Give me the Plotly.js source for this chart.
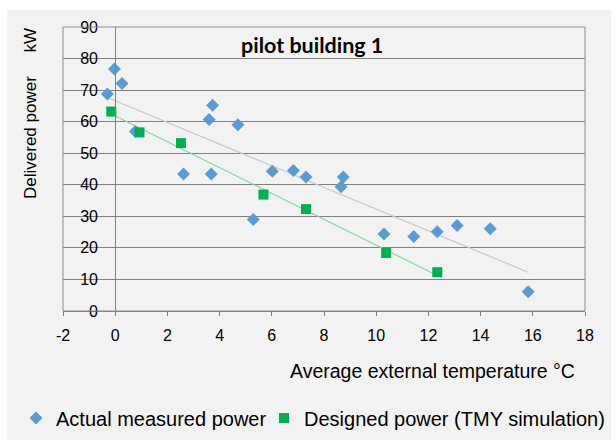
<!DOCTYPE html>
<html>
<head>
<meta charset="utf-8">
<script src="https://cdn.plot.ly/plotly-3.0.1.min.js"></script>
<style>html,body{margin:0;padding:0;background:#fff;}#chart{width:615px;height:443px;}</style>
</head>
<body>
<div id="chart"></div>
<script>
// Actual measured power (blue diamonds)
var actualTemp  = [-0.3, -0.03, 0.26, 0.77, 2.62, 3.60, 3.73, 3.68, 4.70, 6.02, 6.83, 7.31, 8.74, 8.65, 5.29, 10.30, 11.44, 12.34, 13.10, 14.37, 15.82];
var actualPower = [68.8, 76.7, 72.1, 56.9, 43.4, 60.7, 65.2, 43.4, 59.0, 44.3, 44.5, 42.5, 42.5, 39.4, 29.0, 24.4, 23.6, 25.1, 27.1, 26.1, 6.1];
// Designed power (TMY simulation) (green squares)
var designTemp  = [-0.15, 0.93, 2.52, 5.68, 7.31, 10.38, 12.34];
var designPower = [63.2, 56.6, 53.2, 36.9, 32.3, 18.4, 12.3];
var xTicks = [-2, 0, 2, 4, 6, 8, 10, 12, 14, 16, 18];
var yTicks = [0, 10, 20, 30, 40, 50, 60, 70, 80, 90];
var chartTitle = "pilot building 1";
var xTitle = "Average external temperature \u00b0C";
var yTitle = "Delivered power\u00a0\u00a0\u00a0\u00a0\u00a0kW";
var seriesNames = ["Actual measured power", "Designed power (TMY simulation)"];

function linFit(xs, ys) {
  var n = xs.length, sx = 0, sy = 0, sxx = 0, sxy = 0;
  for (var i = 0; i < n; i++) { sx += xs[i]; sy += ys[i]; sxx += xs[i]*xs[i]; sxy += xs[i]*ys[i]; }
  var b = (n*sxy - sx*sy) / (n*sxx - sx*sx);
  var a = (sy - b*sx) / n;
  var x0 = Math.min.apply(null, xs), x1 = Math.max.apply(null, xs);
  return {x: [x0, x1], y: [a + b*x0, a + b*x1]};
}
var fitA = linFit(actualTemp, actualPower);
var fitD = linFit(designTemp, designPower);

var font = "Liberation Sans, Arial, sans-serif";
var traces = [
  {x: fitA.x, y: fitA.y, mode: 'lines', line: {color: '#c9c9c9', width: 1.2}, showlegend: false, hoverinfo: 'skip'},
  {x: fitD.x, y: fitD.y, mode: 'lines', line: {color: '#7ddc9f', width: 1.2}, showlegend: false, hoverinfo: 'skip'},
  {x: actualTemp, y: actualPower, mode: 'markers', name: seriesNames[0], legend: 'legend',
   marker: {symbol: 'diamond', size: 10, color: '#5b9bd5'}},
  {x: designTemp, y: designPower, mode: 'markers', name: seriesNames[1], legend: 'legend2',
   marker: {symbol: 'square', size: 10, color: '#00b050'}}
];

var legendCommon = {
  orientation: 'h', xref: 'container', yref: 'container',
  xanchor: 'left', y: 1 - 418/443, yanchor: 'middle',
  font: {family: font, size: 20, color: '#000'}, bgcolor: 'rgba(0,0,0,0)', itemwidth: 30
};
var legend1 = Object.assign({}, legendCommon, {x: 16/615});
var legend2 = Object.assign({}, legendCommon, {x: 264/615});

var layout = {
  width: 615, height: 443,
  margin: {l: 63, r: 30, t: 27, b: 132, pad: 0, autoexpand: false},
  paper_bgcolor: '#ffffff', plot_bgcolor: '#ffffff',
  font: {family: font, color: '#000000', size: 16},
  showlegend: true,
  xaxis: {
    range: [-2, 18], tickvals: xTicks, ticktext: xTicks.map(String),
    showgrid: false, zeroline: false, showline: true, linecolor: '#7f7f7f', linewidth: 1,
    ticks: 'outside', ticklen: 4, tickcolor: '#7f7f7f',
    tickfont: {family: font, size: 16, color: '#000'}, ticklabelstandoff: 6,
    fixedrange: true
  },
  yaxis: {
    range: [0, 90], tickvals: yTicks, ticktext: yTicks.map(String),
    anchor: 'free', position: 0.1,
    showgrid: true, gridcolor: '#808080', gridwidth: 1,
    zeroline: false, showline: true, linecolor: '#7f7f7f', linewidth: 1,
    ticks: '', tickfont: {family: font, size: 16, color: '#000'}, ticklabelstandoff: 14,
    fixedrange: true
  },
  legend: legend1,
  legend2: legend2,
  shapes: [
    {type: 'rect', xref: 'paper', yref: 'paper', x0: -0.107, x1: 1.05, y0: -0.454, y1: 1.06,
     fillcolor: '#f2f2f2', line: {width: 0}, layer: 'below'},
    {type: 'rect', xref: 'paper', yref: 'paper', x0: 0, x1: 1, y0: 0, y1: 1,
     fillcolor: 'rgba(0,0,0,0)', line: {color: '#8c8c8c', width: 1}}
  ],
  annotations: [
    {text: '<b>' + chartTitle + '</b>', xref: 'paper', yref: 'paper', x: 0.477, y: 0.937,
     xanchor: 'center', yanchor: 'middle', showarrow: false,
     font: {family: 'Lato, Open Sans, sans-serif', size: 21.5, color: '#000'}},
    {text: xTitle, xref: 'paper', yref: 'paper', x: (432-63)/522, y: 1-(371-27)/284,
     xanchor: 'center', yanchor: 'middle', showarrow: false,
     font: {family: font, size: 19.5, color: '#000'}},
    {text: yTitle, xref: 'paper', yref: 'paper', x: (31-63)/522, y: 1-(114-27)/284,
     xanchor: 'center', yanchor: 'middle', showarrow: false, textangle: -90,
     font: {family: font, size: 17, color: '#000'}}
  ]
};

Plotly.newPlot('chart', traces, layout, {displayModeBar: false, staticPlot: true});
</script>
</body>
</html>
